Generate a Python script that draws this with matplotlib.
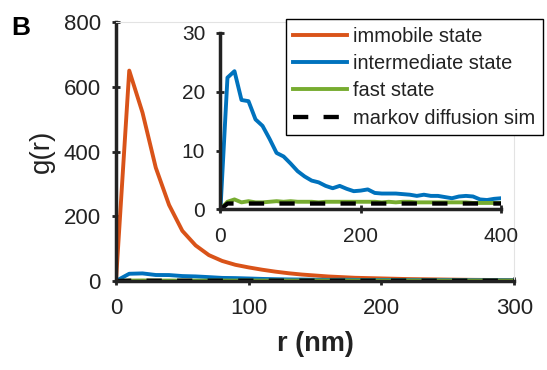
import numpy as np
from matplotlib import pyplot as plt

plt.rcParams['font.family'] = ['Liberation Sans', 'DejaVu Sans']
plt.rcParams['lines.scale_dashes'] = False

r = np.arange(0, 410, 10)

immobile = [0, 650, 520, 350, 235, 155, 110, 80, 62, 50,
            42, 35, 29, 24, 20, 17, 14, 12, 10, 9,
            8, 7, 6, 5.5, 5, 4.5, 4, 3.6, 3.3, 3,
            2.8, 2.6, 2.5, 2.4, 2.3, 2.2, 2.1, 2.0, 2.0, 1.9, 1.9]
intermediate = [0, 22.4, 23.5, 18.6, 18.4, 15.3, 14.2, 12.0, 9.6, 9.0,
                7.8, 6.5, 5.6, 4.9, 4.6, 4.0, 3.6, 4.0, 3.5, 3.1,
                3.2, 3.4, 2.8, 2.7, 2.7, 2.7, 2.6, 2.5, 2.3, 2.5,
                2.3, 2.3, 2.1, 1.9, 2.2, 2.3, 2.2, 1.7, 1.6, 1.8, 1.9]
fast = [0, 1.3, 1.7, 1.2, 1.4, 1.2, 1.2, 1.3, 1.4, 1.3,
        1.4, 1.3, 1.3, 1.3, 1.2, 1.3, 1.3, 1.3, 1.3, 1.3,
        1.3, 1.3, 1.3, 1.2, 1.3, 1.2, 1.3, 1.3, 1.2, 1.2,
        1.2, 1.2, 1.2, 1.2, 1.2, 1.2, 1.1, 1.1, 1.1, 1.1, 1.1]
markov = [0] + [1.0] * 40

c_imm = '#D95319'
c_int = '#0072BD'
c_fast = '#77AC30'
dark = '#222222'
lw = 2.8

fig = plt.figure(figsize=(5.47, 3.70), dpi=100)

# main axes
ax = fig.add_axes([0.212, 0.2405, 0.728, 0.700])
ax.plot(r, immobile, color=c_imm, lw=lw, label='immobile state')
ax.plot(r, intermediate, color=c_int, lw=lw, label='intermediate state')
ax.plot(r, fast, color=c_fast, lw=lw, label='fast state')
ax.plot(r, markov, color='black', lw=lw + 0.3, dashes=(11, 11),
        label='markov diffusion sim')
ax.set_xlim(0, 300)
ax.set_ylim(0, 800)
ax.set_xticks([0, 100, 200, 300])
ax.set_yticks([0, 200, 400, 600, 800])
ax.set_xlabel('r (nm)', fontsize=19.5, fontweight='bold', color=dark, labelpad=9)
ax.set_ylabel('g(r)', fontsize=20, color=dark, labelpad=6)
for s in ['left', 'bottom']:
    ax.spines[s].set_linewidth(2.5)
    ax.spines[s].set_color(dark)
for s in ['top', 'right']:
    ax.spines[s].set_linewidth(0.8)
    ax.spines[s].set_color('#e3e3e3')
ax.tick_params(direction='inout', length=6, width=2, color=dark,
               labelsize=16, labelcolor=dark, top=False, right=False)
ax.tick_params(axis='x', pad=9)
ax.tick_params(axis='y', pad=8)

leg = ax.legend(loc='upper right', bbox_to_anchor=(1.073, 1.012),
                fontsize=14.4, handlelength=2.7, handletextpad=0.3,
                labelspacing=0.42, borderpad=0.38, borderaxespad=0,
                fancybox=False, framealpha=1, edgecolor='black')
leg.get_frame().set_linewidth(1.0)
leg.set_zorder(10)
for t in leg.get_texts():
    t.set_color(dark)

# inset axes
ins = fig.add_axes([0.403, 0.434, 0.513, 0.477])
ins.plot(r, intermediate, color=c_int, lw=lw)
ins.plot(r, fast, color=c_fast, lw=lw)
ins.plot(r, markov, color='black', lw=lw + 0.3, dashes=(11, 11))
ins.set_xlim(0, 400)
ins.set_ylim(0, 30)
ins.set_xticks([0, 200, 400])
ins.set_yticks([0, 10, 20, 30])
ins.patch.set_alpha(0)
for s in ['left', 'bottom']:
    ins.spines[s].set_linewidth(2.5)
    ins.spines[s].set_color(dark)
for s in ['top', 'right']:
    ins.spines[s].set_visible(False)
ins.tick_params(direction='inout', length=6, width=2, color=dark,
                labelsize=15, labelcolor=dark)
ins.tick_params(axis='x', pad=10)
ins.tick_params(axis='y', pad=8)

fig.text(0.020, 0.905, 'B', fontsize=19, fontweight='bold', color='black')

fig.savefig('out.png', dpi=100)
